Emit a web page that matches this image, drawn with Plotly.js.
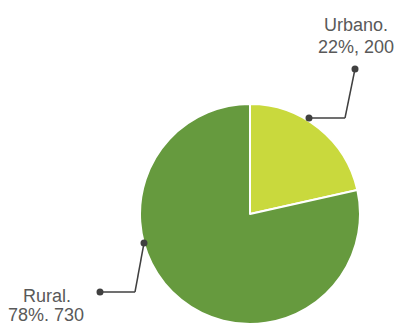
<!DOCTYPE html>
<html><head><meta charset="utf-8">
<script src="https://cdn.plot.ly/plotly-3.0.1.min.js"></script>
<style>html,body{margin:0;padding:0;background:#fff}#chart{width:394px;height:325px}</style>
</head><body><div id="chart"></div>
<script>
var categories = ["Urbano", "Rural"];
var values = [200, 730];
var labelLines = [["Urbano.", "22%, 200"], ["Rural.", "78%. 730"]];
var colors = ["#C9D93D", "#669A3E"];

var W = 394, H = 325;
function px(x){return x/W;}
function py(y){return 1 - y/H;}

var trace = {
  type: "pie",
  labels: categories,
  values: values,
  sort: false,
  direction: "clockwise",
  rotation: 0,
  textinfo: "none",
  hoverinfo: "label+value+percent",
  marker: {colors: colors, line: {color: "#ffffff", width: 2}},
  domain: {x: [px(140), px(360)], y: [py(324), py(104)]},
  showlegend: false
};

var lineColor = "#404040";
var leaders = [
  [[355,69],[345,118],[309,118]],
  [[144,243],[135,292],[100,292]]
];
var shapes = [];
leaders.forEach(function(pts){
  for (var i=0;i<pts.length-1;i++){
    shapes.push({type:"line", xref:"paper", yref:"paper",
      x0:px(pts[i][0]), y0:py(pts[i][1]), x1:px(pts[i+1][0]), y1:py(pts[i+1][1]),
      line:{color:lineColor, width:1.5}});
  }
  [pts[0], pts[pts.length-1]].forEach(function(p){
    shapes.push({type:"circle", xref:"paper", yref:"paper",
      x0:px(p[0]-3.5), x1:px(p[0]+3.5), y0:py(p[1]+3.5), y1:py(p[1]-3.5),
      fillcolor:lineColor, line:{width:0}});
  });
});

var font = {family: "'Liberation Sans', Arial, sans-serif", size: 18, color: "#595959"};
var labelPos = [[[356, 25], [356, 47]], [[47, 296], [46, 315]]];
var annotations = [];
labelLines.forEach(function(lines, i){
  lines.forEach(function(t, j){
    annotations.push({xref:"paper", yref:"paper", x:px(labelPos[i][j][0]), y:py(labelPos[i][j][1]),
      xanchor:"center", yanchor:"middle", text:t, showarrow:false, font:font});
  });
});

var layout = {
  width: W, height: H,
  margin: {l:0, r:0, t:0, b:0},
  paper_bgcolor: "#ffffff",
  shapes: shapes,
  annotations: annotations
};
Plotly.newPlot("chart", [trace], layout, {displayModeBar:false, staticPlot:true});
</script></body></html>
